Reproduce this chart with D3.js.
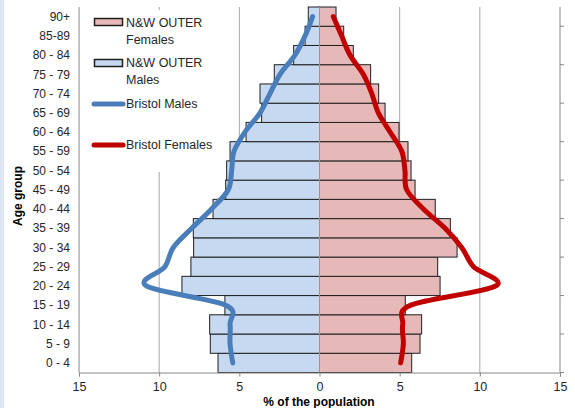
<!DOCTYPE html>
<html>
<head>
<meta charset="utf-8">
<script src="https://cdn.jsdelivr.net/npm/d3@7"></script>
<style>
  body { margin: 0; background: #fff; }
  text { font-family: "Liberation Sans", Arial, sans-serif; }
</style>
</head>
<body>
<div id="chart"></div>
<script>
// age bands, bottom to top
var ages = ["0 - 4", "5 - 9", "10 - 14", "15 - 19", "20 - 24", "25 - 29", "30 - 34", "35 - 39",
  "40 - 44", "45 - 49", "50 - 54", "55 - 59", "60 - 64", "65 - 69", "70 - 74", "75 - 79",
  "80 - 84", "85-89", "90+"];

// % of population
var nwMales = [6.33, 6.81, 6.85, 5.9, 8.58, 8.02, 7.85, 7.87, 6.64, 5.85, 5.79, 5.58, 4.58, 3.61, 3.71, 2.82, 1.61, 0.9, 0.7];
var nwFemales = [5.75, 6.27, 6.37, 5.35, 7.52, 7.37, 8.58, 8.16, 7.22, 5.96, 5.71, 5.52, 4.96, 4.09, 3.69, 3.19, 2.11, 1.51, 1.03];
var bristolMales = [5.41, 5.58, 5.58, 5.85, 10.8, 9.64, 9.12, 7.97, 6.73, 5.69, 5.48, 5.33, 4.65, 3.71, 3.09, 2.46, 1.53, 0.9, 0.43];
var bristolFemales = [5.06, 5.23, 5.19, 5.7, 11.0, 9.6, 8.87, 7.83, 6.48, 5.44, 5.33, 5.13, 4.4, 3.67, 3.26, 2.73, 1.9, 1.38, 0.86];

var xTicks = [-15, -10, -5, 0, 5, 10, 15];

(function() {
  var width = 575, height = 408;
  var left = 79, right = 560, top = 7, bottom = 372.5;

  var svg = d3.select("#chart")
    .append("svg")
    .attr("width", width)
    .attr("height", height);

  // thin frame strip on the left edge
  svg.append("rect")
    .attr("x", 0).attr("y", 0)
    .attr("width", 4).attr("height", height)
    .attr("fill", "#dce6f2");

  var xScale = d3.scaleLinear()
    .domain([-15, 15])
    .range([left, right]);

  var yScale = d3.scaleBand()
    .domain(ages.slice().reverse())
    .range([top, bottom])
    .padding(0);

  var bw = yScale.bandwidth();

  // vertical gridlines
  svg.selectAll(".grid")
    .data([-10, -5, 5, 10])
    .enter().append("line")
    .attr("x1", function(d) { return xScale(d); })
    .attr("x2", function(d) { return xScale(d); })
    .attr("y1", top)
    .attr("y2", bottom)
    .attr("stroke", "#a6a6a6")
    .attr("stroke-width", 1);

  // bars
  svg.selectAll(".male")
    .data(ages)
    .enter().append("rect")
    .attr("x", function(d, i) { return xScale(-nwMales[i]); })
    .attr("y", function(d) { return yScale(d); })
    .attr("width", function(d, i) { return xScale(0) - xScale(-nwMales[i]); })
    .attr("height", bw)
    .attr("fill", "#c6d9f1")
    .attr("stroke", "#1f1f1f")
    .attr("stroke-width", 1);

  svg.selectAll(".female")
    .data(ages)
    .enter().append("rect")
    .attr("x", xScale(0))
    .attr("y", function(d) { return yScale(d); })
    .attr("width", function(d, i) { return xScale(nwFemales[i]) - xScale(0); })
    .attr("height", bw)
    .attr("fill", "#e6b9b8")
    .attr("stroke", "#1f1f1f")
    .attr("stroke-width", 1);

  // centre axis at 0
  svg.append("line")
    .attr("x1", xScale(0)).attr("x2", xScale(0))
    .attr("y1", top).attr("y2", bottom)
    .attr("stroke", "#969696");

  // left axis
  svg.append("line")
    .attr("x1", left).attr("x2", left)
    .attr("y1", top).attr("y2", bottom)
    .attr("stroke", "#868686");

  // right (secondary) axis with ticks every two bands
  svg.append("line")
    .attr("x1", right).attr("x2", right)
    .attr("y1", top).attr("y2", bottom)
    .attr("stroke", "#868686");

  svg.selectAll(".rtick")
    .data(ages.filter(function(d, i) { return i % 2 == 0; }))
    .enter().append("line")
    .attr("x1", right).attr("x2", right + 4)
    .attr("y1", function(d) { return yScale(d) + bw; })
    .attr("y2", function(d) { return yScale(d) + bw; })
    .attr("stroke", "#868686");

  // bottom axis
  var xAxis = d3.axisBottom(xScale)
    .tickValues(xTicks)
    .tickSize(4)
    .tickFormat(function(d) { return Math.abs(d); });

  var gx = svg.append("g")
    .attr("transform", "translate(0," + bottom + ")")
    .call(xAxis);
  gx.select(".domain").attr("stroke", "#868686");
  gx.selectAll(".tick line").attr("stroke", "#868686");
  gx.selectAll(".tick text")
    .attr("font-size", 12.5)
    .attr("fill", "#262626")
    .attr("font-family", "Liberation Sans, Arial, sans-serif")
    .attr("dy", "0.9em");

  // age labels
  svg.selectAll(".age")
    .data(ages)
    .enter().append("text")
    .attr("x", 70)
    .attr("y", function(d) { return yScale(d) + bw / 2; })
    .attr("dy", "0.35em")
    .attr("text-anchor", "end")
    .attr("font-size", 12)
    .attr("fill", "#262626")
    .text(function(d) { return d; });

  svg.append("text")
    .attr("transform", "translate(22,196) rotate(-90)")
    .attr("text-anchor", "middle")
    .attr("font-size", 12)
    .attr("font-weight", "bold")
    .attr("fill", "#000")
    .text("Age group");

  svg.append("text")
    .attr("x", 319)
    .attr("y", 406)
    .attr("text-anchor", "middle")
    .attr("font-size", 12)
    .attr("font-weight", "bold")
    .attr("fill", "#000")
    .text("% of the population");

  // Bristol lines
  var line = d3.line()
    .curve(d3.curveCatmullRom.alpha(0))
    .x(function(d) { return xScale(d.v); })
    .y(function(d) { return yScale(d.age) + bw / 2; });

  svg.append("path")
    .datum(ages.map(function(a, i) { return { age: a, v: -bristolMales[i] }; }))
    .attr("d", line)
    .attr("fill", "none")
    .attr("stroke", "#4a7ebb")
    .attr("stroke-width", 5)
    .attr("stroke-linecap", "round");

  svg.append("path")
    .datum(ages.map(function(a, i) { return { age: a, v: bristolFemales[i] }; }))
    .attr("d", line)
    .attr("fill", "none")
    .attr("stroke", "#c00000")
    .attr("stroke-width", 5)
    .attr("stroke-linecap", "round");

  // legend
  var lg = svg.append("g");
  lg.append("rect")
    .attr("x", 86).attr("y", 10)
    .attr("width", 138).attr("height", 162)
    .attr("fill", "#fff");

  lg.append("rect")
    .attr("x", 94.5).attr("y", 18.5)
    .attr("width", 28).attr("height", 7)
    .attr("fill", "#e6b9b8").attr("stroke", "#1f1f1f").attr("stroke-width", 1.5);
  lg.append("rect")
    .attr("x", 94.5).attr("y", 59.5)
    .attr("width", 28).attr("height", 7)
    .attr("fill", "#c6d9f1").attr("stroke", "#1f1f1f").attr("stroke-width", 1.5);
  lg.append("line")
    .attr("x1", 94).attr("x2", 123).attr("y1", 104).attr("y2", 104)
    .attr("stroke", "#4a7ebb").attr("stroke-width", 5).attr("stroke-linecap", "round");
  lg.append("line")
    .attr("x1", 94).attr("x2", 123).attr("y1", 145).attr("y2", 145)
    .attr("stroke", "#c00000").attr("stroke-width", 5).attr("stroke-linecap", "round");

  var legendText = [
    ["N&W OUTER", 26.5], ["Females", 43.5],
    ["N&W OUTER", 67], ["Males", 84],
    ["Bristol Males", 108], ["Bristol Females", 149]
  ];
  lg.selectAll(".ltext")
    .data(legendText)
    .enter().append("text")
    .attr("x", 126)
    .attr("y", function(d) { return d[1]; })
    .attr("font-size", 12.5)
    .attr("fill", "#262626")
    .text(function(d) { return d[0]; });
})();
</script>
</body>
</html>
